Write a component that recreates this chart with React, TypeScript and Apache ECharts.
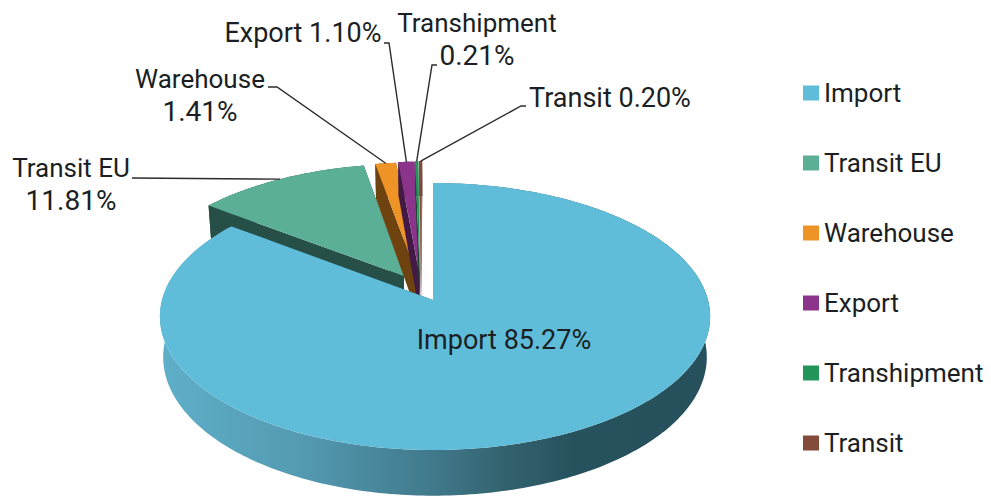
import React, { useEffect, useRef } from "react";
import * as echarts from "echarts";

// ---- data ----
const categories = ["Import", "Transit EU", "Warehouse", "Export", "Transhipment", "Transit"];
const shares = [85.27, 11.81, 1.41, 1.1, 0.21, 0.2];

// ---- styles and layout ----
const topColors = ["#5FBDDA", "#5BAF97", "#EE9325", "#8C348C", "#23945A", "#854B3A"];
const wallColors = ["#25505C", "#264F47", "#6E4310", "#431A45", "#124A2D", "#42251D"];
// slice displacement on the pie's plane (unit disc): sideways, backwards
const displacement: number[][] = [
  [0, 0],
  [-0.11, 0.187],
  [-0.0616, 0.203],
  [-0.0525, 0.21],
  [-0.05, 0.215],
  [-0.046, 0.215],
];
// where each label sits, its leader's elbow and the label text layout
const labelLayout: { x: number; y: number; elbow?: number[][]; two?: boolean }[] = [
  { x: 504, y: 340 },
  { x: 71, y: 184, elbow: [[132, 178]], two: true },
  { x: 200, y: 95, elbow: [[268, 87], [277, 87]], two: true },
  { x: 303, y: 33, elbow: [[384, 43], [389, 43]] },
  { x: 477, y: 39, elbow: [[437, 65], [432, 65]], two: true },
  { x: 610, y: 98, elbow: [[526, 106], [521, 106]] },
];
const FONT = "Roboto";
const FONT_SIZE = 26;
const FONT_SIZE_SINGLE = 27;
const FONT_SIZE_VALUE = 28;
const LINE_GAP = 16.5;
const TEXT = "#1b1f24";

// Perspective view of a unit disc lying flat, seen from the front
const CX = 433;
const CY = 300;
const KX_LEFT = 271;
const KX_RIGHT = 275;
const KY = -94.4;
const PERSP = 0.1236;
const DEPTH = 40;
const TAPER = 0.012;

function project(u: number, v: number, z: number): number[] {
  const w = 1 + PERSP * v;
  const k = u < 0 ? KX_LEFT : KX_RIGHT;
  return [CX + (k * u * (1 - TAPER * z)) / w, (CY + KY * v + DEPTH * z) / w];
}

const pct = (v: number) => `${v.toFixed(2)}%`;

function makeRenderItem(index: number) {
  return (_params: any, api: any) => {
    const value = api.value(0);
    const total = shares.reduce((a, b) => a + b, 0);
    const before = shares.slice(0, index).reduce((a, b) => a + b, 0);
    const a0 = (before / total) * Math.PI * 2;
    const a1 = ((before + value) / total) * Math.PI * 2;
    const [du, dv] = displacement[index];
    const rim = (a: number, z: number) => project(Math.sin(a) + du, Math.cos(a) + dv, z);
    const steps = Math.max(2, Math.ceil(((a1 - a0) * 180) / Math.PI));
    const arc = (z: number) => {
      const pts: number[][] = [];
      for (let i = 0; i <= steps; i++) pts.push(rim(a0 + ((a1 - a0) * i) / steps, z));
      return pts;
    };
    const apexTop = project(du, dv, 0);
    const apexBottom = project(du, dv, 1);
    const wall = wallColors[index];
    const sideFill =
      index === 0
        ? new echarts.graphic.LinearGradient(0, 0, 1, 0, [
            { offset: 0, color: "#5FAFC9" },
            { offset: 0.25, color: "#549BB3" },
            { offset: 0.51, color: "#3F7789" },
            { offset: 0.62, color: "#33636F" },
            { offset: 0.75, color: "#26525E" },
            { offset: 1, color: "#25505C" },
          ])
        : wall;

    const children: any[] = [];
    const poly = (points: number[][], fill: any) =>
      children.push({ type: "polygon", shape: { points }, style: { fill, stroke: null }, silent: true });

    poly([rim(a0, 0), apexTop, apexBottom, rim(a0, 1)], wall);
    poly([rim(a1, 0), apexTop, apexBottom, rim(a1, 1)], wall);
    poly([...arc(0), ...arc(1).reverse()], sideFill);
    poly([apexTop, ...arc(0)], topColors[index]);

    const layout = labelLayout[index];
    if (layout.elbow) {
      const mid = (a0 + a1) / 2;
      children.push({
        type: "polyline",
        shape: { points: [...layout.elbow, rim(mid, 0)] },
        style: { stroke: "#2b2b2b", lineWidth: 1.4, fill: null },
        silent: true,
      });
    }
    const name = categories[index];
    const label = (text: string, y: number, fontSize: number) =>
      children.push({
        type: "text",
        silent: true,
        style: {
          text,
          x: layout.x,
          y,
          align: "center",
          verticalAlign: "middle",
          fill: TEXT,
          fontFamily: FONT,
          fontSize,
        },
      });
    if (layout.two) {
      label(name, layout.y - LINE_GAP, FONT_SIZE);
      label(pct(value), layout.y + LINE_GAP, FONT_SIZE_VALUE);
    } else {
      label(`${name} ${pct(value)}`, layout.y, FONT_SIZE_SINGLE);
    }
    return { type: "group", children };
  };
}

// painter's order: farthest slices first, Import last
const drawOrder = [1, 2, 3, 4, 5, 0];

export default function App() {
  const ref = useRef<HTMLDivElement>(null);
  useEffect(() => {
    document.body.style.margin = "0";
    const chart = echarts.init(ref.current!, null, { renderer: "svg" });
    chart.setOption({
      animation: false,
      backgroundColor: "#ffffff",
      legend: {
        orient: "vertical",
        left: 803,
        top: 78,
        padding: 0,
        itemWidth: 16,
        itemHeight: 15,
        itemGap: 40,
        icon: "rect",
        selectedMode: false,
        data: categories,
        textStyle: { fontFamily: FONT, fontSize: FONT_SIZE, color: TEXT, lineHeight: 30 },
      },
      series: drawOrder.map((i) => ({
        type: "custom",
        name: categories[i],
        coordinateSystem: "none",
        silent: true,
        itemStyle: { color: topColors[i] },
        data: [[shares[i]]],
        renderItem: makeRenderItem(i),
      })),
    });
    return () => chart.dispose();
  }, []);
  return <div ref={ref} style={{ width: 991, height: 496 }} />;
}
